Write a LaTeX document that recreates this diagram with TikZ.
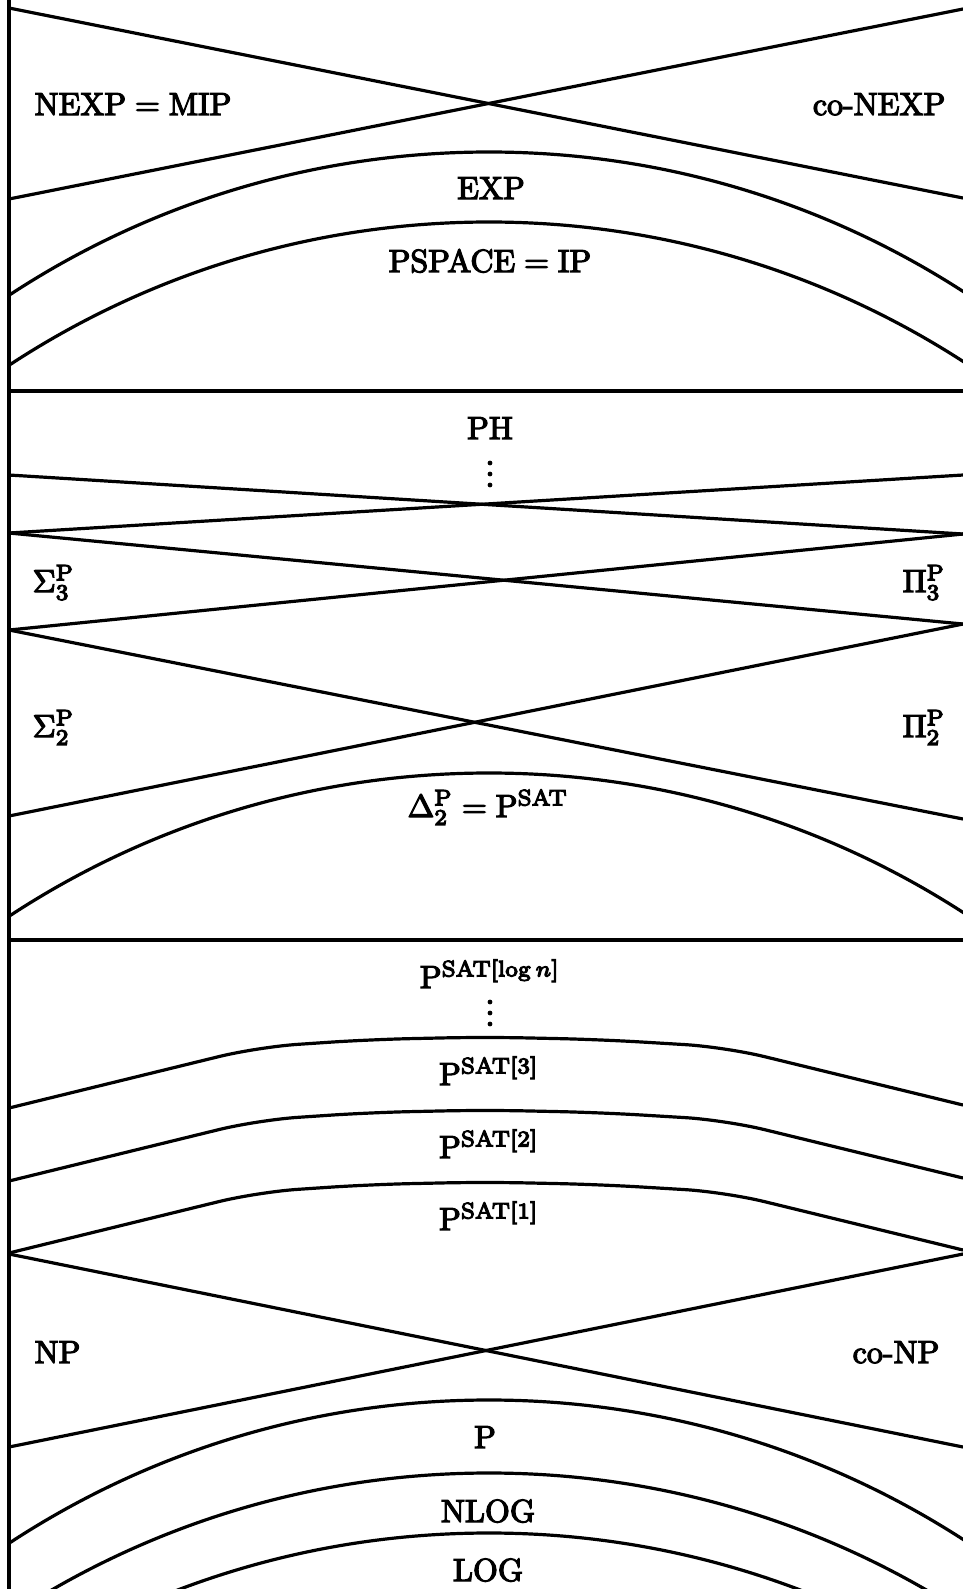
\documentclass[tikz,border=0pt]{standalone}
\newcommand{\heavy}[1]{\special{pdf:literal direct 2 Tr 0.38 w}#1\special{pdf:literal direct 0 Tr}}
\tikzset{
  bd/.style={line width=1pt, line join=miter},
  divider/.style={line width=1.08pt},
  lbl/.style={inner sep=0pt, font=\normalsize, execute at begin node=\special{pdf:literal direct 2 Tr 0.38 w}, execute at end node=\special{pdf:literal direct 0 Tr}},
  dotm/.style={fill=black, circle, inner sep=0pt, minimum size=1.5pt},
}
\begin{document}
\begin{tikzpicture}[x=0.3125pt,y=-0.3125pt]
\useasboundingbox (0,0) rectangle (963,1589);
% frame
\coordinate (TL) at (9,0);
\coordinate (BL) at (9,1589);
\draw[bd] (TL) -- (BL);
\coordinate (h1l) at (9,391); \coordinate (h1r) at (963,391);
\coordinate (h2l) at (9,940); \coordinate (h2r) at (963,940);
\draw[divider] (h1l) -- (h1r);
\draw[divider] (h2l) -- (h2r);
% top X
\coordinate (a1) at (9,8);   \coordinate (a2) at (963,198);
\coordinate (a3) at (9,199); \coordinate (a4) at (963,9);
\draw[bd] (a1) -- (a2);
\draw[bd] (a3) -- (a4);
% PH X's
\coordinate (b1) at (9,475);   \coordinate (b2) at (963,534);
\coordinate (b3) at (9,533);   \coordinate (b4) at (963,475);
\draw[bd] (b1) -- (b2);
\draw[bd] (b3) -- (b4);
\coordinate (c1) at (963,624); \coordinate (c2) at (9,630);
\draw[bd] (b3) -- (c1);
\draw[bd] (c2) -- (b2);
\coordinate (d1) at (963,819); \coordinate (d2) at (9,816);
\draw[bd] (c2) -- (d1);
\draw[bd] (d2) -- (c1);
% NP X
\coordinate (e1) at (9,1254);  \coordinate (e2) at (963,1447);
\coordinate (e3) at (9,1447);  \coordinate (e4) at (963,1254);
\draw[bd] (e1) -- (e2);
\draw[bd] (e3) -- (e4);
% P^SAT[k] curves
\foreach \dy in {0,73,145}{
  \draw[bd, rounded corners=12.5pt] (9,1108+\dy) -- (258,1047+\dy) -- (370,1039.5+\dy)
     -- (485,1037+\dy) -- (600,1039.5+\dy) -- (725,1047+\dy) -- (963,1105+\dy);
}
% circular arcs
\begin{scope}
\clip (9,0) rectangle (963,1589);
\foreach \py in {152,222,773,1400,1473,1533}{
  \draw[bd] (489,\py+875) circle[radius=273.44pt];
}
\end{scope}
% labels
\node[lbl, anchor=base west] (nexp) at (34,115) {$\mathrm{NEXP}=\mathrm{MIP}$};
\node[lbl, anchor=base east] (conexp) at (946,115) {co-NEXP};
\node[lbl, anchor=base] (exp) at (491,199) {EXP};
\node[lbl, anchor=base] (pspace) at (490,272) {$\mathrm{PSPACE}=\mathrm{IP}$};
\node[lbl, anchor=base] (ph) at (490,439) {PH};
\node[dotm] (v1) at (490,463) {}; \node[dotm] (v2) at (490,474) {}; \node[dotm] (v3) at (490,485) {};
\node[lbl, anchor=base west] (s3) at (32,592) {$\Sigma_3^{\mathrm{P}}$};
\node[lbl, anchor=base east] (p3) at (946,592) {$\Pi_3^{\mathrm{P}}$};
\node[lbl, anchor=base west] (s2) at (32,737) {$\Sigma_2^{\mathrm{P}}$};
\node[lbl, anchor=base east] (p2) at (946,737) {$\Pi_2^{\mathrm{P}}$};
\node[lbl, anchor=base] (d2l) at (488,817) {$\Delta_2^{\mathrm{P}}=\mathrm{P}^{\mathrm{SAT}}$};
\node[lbl, anchor=base] (plog) at (490,988) {$\mathrm{P}^{\mathrm{SAT}[\log n]}$};
\node[dotm] (w1) at (490,1002) {}; \node[dotm] (w2) at (490,1013) {}; \node[dotm] (w3) at (490,1024) {};
\node[lbl, anchor=base] (ps3) at (489,1085) {$\mathrm{P}^{\mathrm{SAT}[3]}$};
\node[lbl, anchor=base] (ps2) at (489,1158) {$\mathrm{P}^{\mathrm{SAT}[2]}$};
\node[lbl, anchor=base] (ps1) at (489,1230) {$\mathrm{P}^{\mathrm{SAT}[1]}$};
\node[lbl, anchor=base west] (np) at (34,1363) {NP};
\node[lbl, anchor=base east] (conp) at (940,1363) {co-NP};
\node[lbl, anchor=base] (p) at (485,1448) {P};
\node[lbl, anchor=base] (nlog) at (488,1522) {NLOG};
\node[lbl, anchor=base] (log) at (488,1581) {LOG};
\end{tikzpicture}
\end{document}
